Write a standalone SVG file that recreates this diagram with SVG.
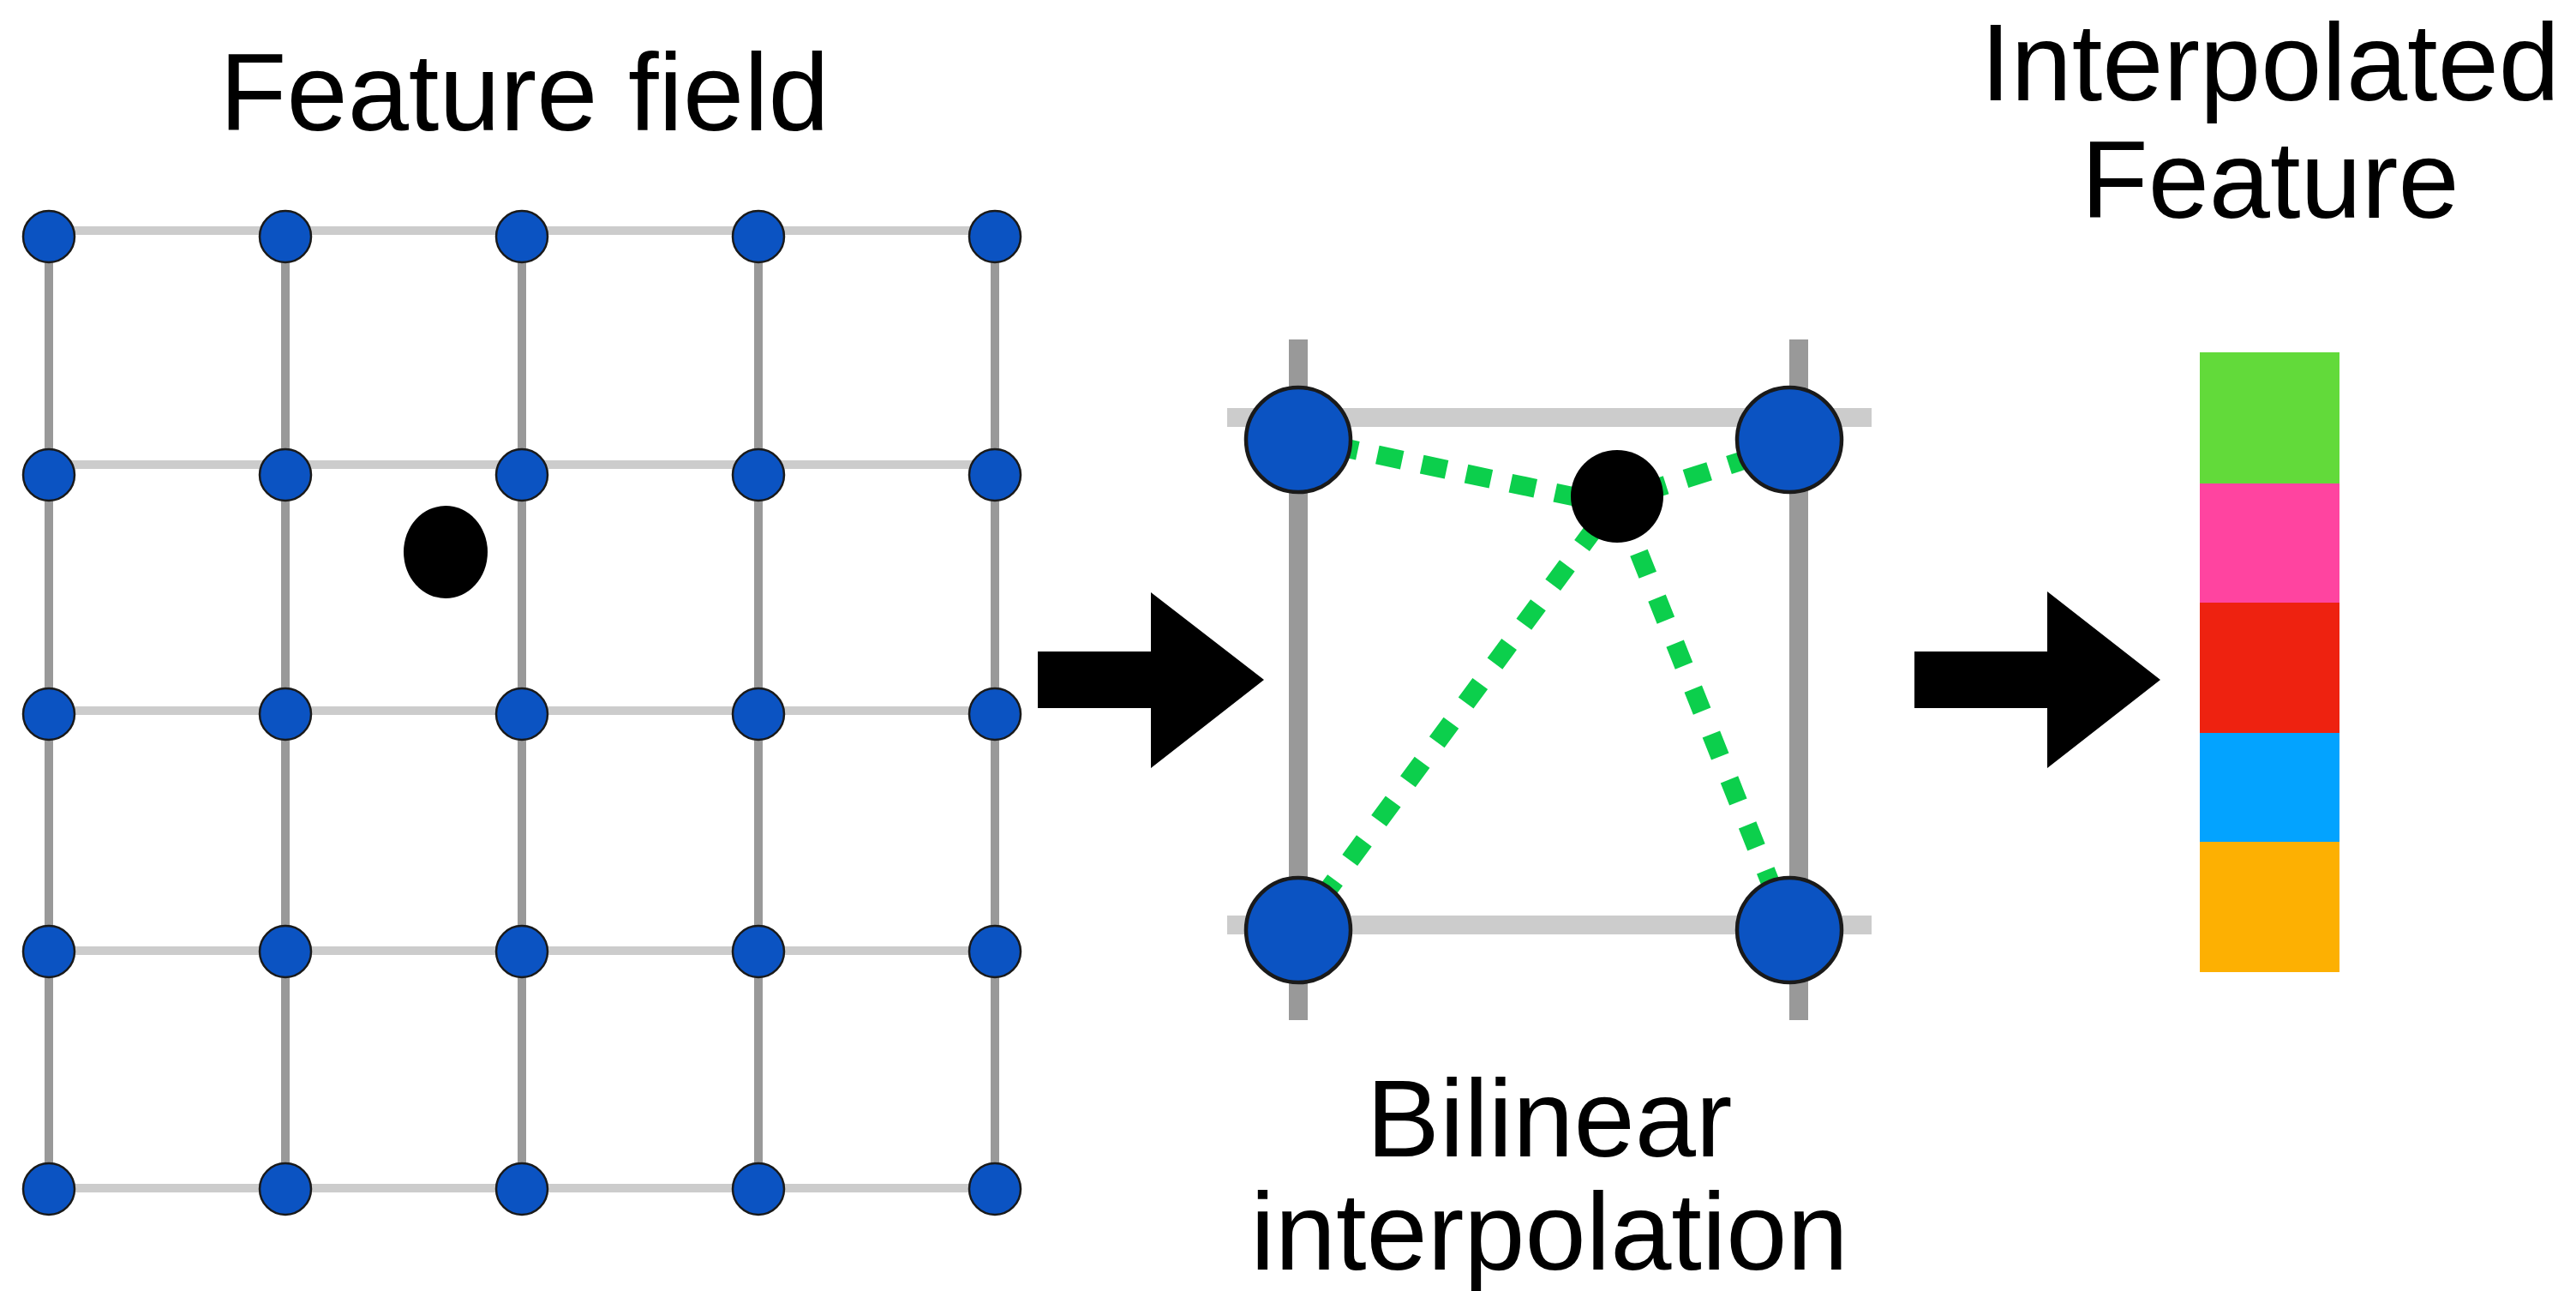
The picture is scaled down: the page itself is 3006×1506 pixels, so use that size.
<svg xmlns="http://www.w3.org/2000/svg" width="3006" height="1506" viewBox="0 0 3006 1506">
  <style>
    .label { font-family: "Liberation Sans", Arial, Helvetica, sans-serif; font-size: 128px; fill: #000; text-anchor: middle; }
    .gh { stroke: #cccccc; stroke-width: 10; fill: none; }
    .gv { stroke: #999999; stroke-width: 10; fill: none; }
    .zh { stroke: #cccccc; stroke-width: 22; fill: none; }
    .zv { stroke: #999999; stroke-width: 22; fill: none; }
    .node { fill: #0b53c2; stroke: #1a1a1a; stroke-width: 2.5; }
    .bignode { fill: #0b53c2; stroke: #1a1a1a; stroke-width: 4.5; }
    .query { fill: #000; }
    .weight { stroke: #0ccf4c; stroke-width: 22; fill: none; }
    .flow { fill: #000; }
  </style>

  <rect width="3006" height="1506" fill="#fff"/>

  <!-- Titles -->
  <text class="label" x="612" y="152">Feature field</text>
  <text class="label" x="1808" y="1349">Bilinear</text>
  <text class="label" x="1808" y="1481">interpolation</text>
  <text class="label" x="2649" y="117">Interpolated</text>
  <text class="label" x="2649" y="254">Feature</text>

  <!-- Feature grid lines -->
  <g id="grid-lines">
    <line class="gv" x1="57" y1="276" x2="57" y2="1386"/>
    <line class="gv" x1="333" y1="276" x2="333" y2="1386"/>
    <line class="gv" x1="609" y1="276" x2="609" y2="1386"/>
    <line class="gv" x1="885" y1="276" x2="885" y2="1386"/>
    <line class="gv" x1="1161" y1="276" x2="1161" y2="1386"/>
    <line class="gh" x1="57" y1="269" x2="1161" y2="269"/>
    <line class="gh" x1="57" y1="542" x2="1161" y2="542"/>
    <line class="gh" x1="57" y1="829" x2="1161" y2="829"/>
    <line class="gh" x1="57" y1="1109" x2="1161" y2="1109"/>
    <line class="gh" x1="57" y1="1386" x2="1161" y2="1386"/>
  </g>

  <!-- Grid feature nodes -->
  <g id="node-r1c1"><circle class="node" cx="57" cy="276" r="30"/></g>
  <g id="node-r1c2"><circle class="node" cx="333" cy="276" r="30"/></g>
  <g id="node-r1c3"><circle class="node" cx="609" cy="276" r="30"/></g>
  <g id="node-r1c4"><circle class="node" cx="885" cy="276" r="30"/></g>
  <g id="node-r1c5"><circle class="node" cx="1161" cy="276" r="30"/></g>
  <g id="node-r2c1"><circle class="node" cx="57" cy="554" r="30"/></g>
  <g id="node-r2c2"><circle class="node" cx="333" cy="554" r="30"/></g>
  <g id="node-r2c3"><circle class="node" cx="609" cy="554" r="30"/></g>
  <g id="node-r2c4"><circle class="node" cx="885" cy="554" r="30"/></g>
  <g id="node-r2c5"><circle class="node" cx="1161" cy="554" r="30"/></g>
  <g id="node-r3c1"><circle class="node" cx="57" cy="833" r="30"/></g>
  <g id="node-r3c2"><circle class="node" cx="333" cy="833" r="30"/></g>
  <g id="node-r3c3"><circle class="node" cx="609" cy="833" r="30"/></g>
  <g id="node-r3c4"><circle class="node" cx="885" cy="833" r="30"/></g>
  <g id="node-r3c5"><circle class="node" cx="1161" cy="833" r="30"/></g>
  <g id="node-r4c1"><circle class="node" cx="57" cy="1110" r="30"/></g>
  <g id="node-r4c2"><circle class="node" cx="333" cy="1110" r="30"/></g>
  <g id="node-r4c3"><circle class="node" cx="609" cy="1110" r="30"/></g>
  <g id="node-r4c4"><circle class="node" cx="885" cy="1110" r="30"/></g>
  <g id="node-r4c5"><circle class="node" cx="1161" cy="1110" r="30"/></g>
  <g id="node-r5c1"><circle class="node" cx="57" cy="1387" r="30"/></g>
  <g id="node-r5c2"><circle class="node" cx="333" cy="1387" r="30"/></g>
  <g id="node-r5c3"><circle class="node" cx="609" cy="1387" r="30"/></g>
  <g id="node-r5c4"><circle class="node" cx="885" cy="1387" r="30"/></g>
  <g id="node-r5c5"><circle class="node" cx="1161" cy="1387" r="30"/></g>

  <!-- Query point in the field -->
  <g id="query-point"><ellipse class="query" cx="520" cy="644" rx="49" ry="54"/></g>

  <!-- Enlarged cell -->
  <g id="cell-lines">
    <line class="zv" x1="1515" y1="396" x2="1515" y2="1190"/>
    <line class="zv" x1="2099" y1="396" x2="2099" y2="1190"/>
    <line class="zh" x1="1432" y1="487" x2="2184" y2="487"/>
    <line class="zh" x1="1432" y1="1079" x2="2184" y2="1079"/>
  </g>

  <g id="connectors">
    <!-- interpolation weights -->
    <line class="weight" x1="1515" y1="511" x2="1887" y2="590" stroke-dasharray="29.5 23.5" stroke-dashoffset="11.6"/>
    <line class="weight" x1="2088" y1="520" x2="1887" y2="584" stroke-dasharray="29 24" stroke-dashoffset="8"/>
    <line class="weight" x1="1515" y1="1085" x2="1887" y2="581" stroke-dasharray="28 29" stroke-dashoffset="12.6"/>
    <line class="weight" x1="2088" y1="1085" x2="1887" y2="581" stroke-dasharray="28 29" stroke-dashoffset="10"/>
    <!-- flow arrows -->
    <polygon class="flow" points="1211,760 1343,760 1343,691 1475,793 1343,896 1343,826 1211,826"/>
    <polygon class="flow" points="2234,760 2389,760 2389,690 2521,793 2389,896 2389,826 2234,826"/>
  </g>

  <g id="cell-node-tl"><circle class="bignode" cx="1515" cy="513" r="61"/></g>
  <g id="cell-node-tr"><circle class="bignode" cx="2088" cy="513" r="61"/></g>
  <g id="cell-node-bl"><circle class="bignode" cx="1515" cy="1085" r="61"/></g>
  <g id="cell-node-br"><circle class="bignode" cx="2088" cy="1085" r="61"/></g>
  <g id="cell-query"><circle class="query" cx="1887" cy="579" r="54"/></g>

  <!-- Output feature vector -->
  <g id="feature-vector">
    <rect x="2567" y="411" width="163" height="153" fill="#62da3a"/>
    <rect x="2567" y="564" width="163" height="139" fill="#ff44a0"/>
    <rect x="2567" y="703" width="163" height="152" fill="#ee2210"/>
    <rect x="2567" y="855" width="163" height="127" fill="#03a3ff"/>
    <rect x="2567" y="982" width="163" height="152" fill="#fdb002"/>
  </g>
</svg>
